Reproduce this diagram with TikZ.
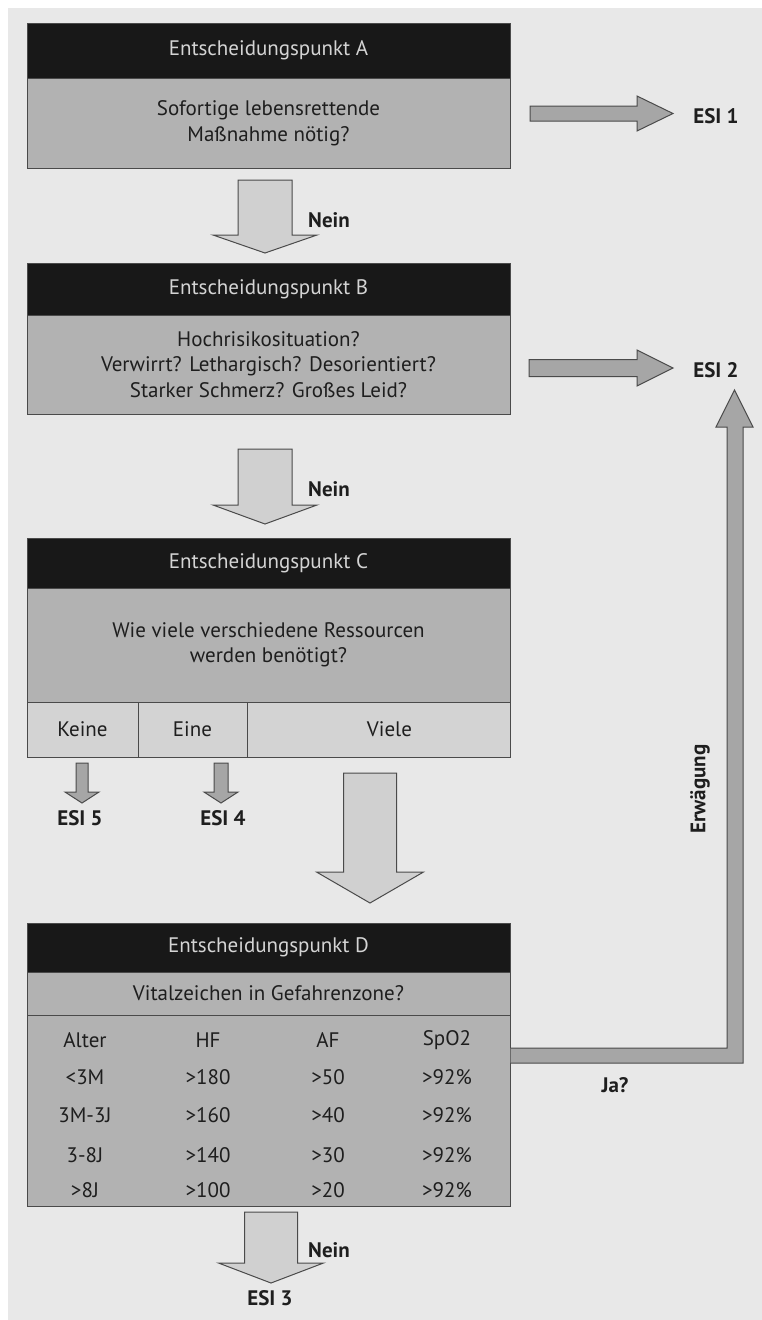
\documentclass[tikz,border=0pt]{standalone}
\usepackage{fontspec}
\setmainfont{PT Sans}

\definecolor{bgcol}{HTML}{E8E8E8}
\definecolor{headcol}{HTML}{181818}
\definecolor{headtext}{HTML}{D4D4D4}
\definecolor{bodycol}{HTML}{B2B2B2}
\definecolor{cellcol}{HTML}{D3D3D3}
\definecolor{linecol}{HTML}{4A4A4A}
\definecolor{textcol}{HTML}{1E1E1E}
\definecolor{arrlight}{HTML}{D0D0D0}
\definecolor{arrdark}{HTML}{A6A6A6}

% block arrows: [style]{x}{top}{base of head}{tip}{half shaft}{half head}
\newcommand{\fatdown}[7][]{%
  \draw[#1] (#2-#6,#3) -- (#2+#6,#3) -- (#2+#6,#4) -- (#2+#7,#4) -- (#2,#5)
    -- (#2-#7,#4) -- (#2-#6,#4) -- cycle;}
% [style]{y}{left}{base of head}{tip}{half shaft}{half head}
\newcommand{\fatright}[7][]{%
  \draw[#1] (#3,#2-#6) -- (#4,#2-#6) -- (#4,#2-#7) -- (#5,#2) -- (#4,#2+#7)
    -- (#4,#2+#6) -- (#3,#2+#6) -- cycle;}

\begin{document}
\begin{tikzpicture}[
  x=1pt, y=-1pt,
  font=\fontsize{21}{25.5}\selectfont,
  head/.style={draw=linecol,line width=1pt,fill=headcol,text=headtext,minimum width=483pt,inner sep=0pt},
  body/.style={draw=linecol,line width=1pt,fill=bodycol,text=textcol,minimum width=483pt,align=center,inner sep=0pt},
  cell/.style={draw=linecol,line width=1pt,fill=cellcol,text=textcol,minimum height=55pt,inner sep=0pt},
  esi/.style={font=\fontsize{21}{25}\selectfont\bfseries,text=textcol},
  tab/.style={text=textcol},
  lightarrow/.style={draw=linecol,line width=1pt,fill=arrlight},
  darkarrow/.style={draw=linecol,line width=1pt,fill=arrdark}]

  \useasboundingbox (0,0) rectangle (762,1320);
  \fill[bgcol] (8,8) rectangle (762,1320);

  % Decision point A
  \node[head, minimum height=55pt] (hA) at (268.5,50.5) {Entscheidungspunkt A};
  \node[body, minimum height=90pt] (bA) at (268.5,123) {Sofortige lebensrettende\\Maßnahme nötig?};

  % Decision point B
  \node[head, minimum height=52pt] (hB) at (268.5,289) {Entscheidungspunkt B};
  \node[body, minimum height=99pt] (bB) at (268.5,364.5)
    {Hochrisikosituation?\\Verwirrt? Lethargisch? Desorientiert?\\Starker Schmerz? Großes Leid?};

  % Decision point C
  \node[head, minimum height=50pt] (hC) at (268.5,563) {Entscheidungspunkt C};
  \node[body, minimum height=114pt] (bC) at (268.5,645)
    {Wie viele verschiedene Ressourcen\\werden benötigt?};
  \node[cell, minimum width=111pt] (keine) at (82.5,729.5) {Keine};
  \node[cell, minimum width=109pt] (eine) at (192.5,729.5) {Eine};
  \node[cell, minimum width=263pt] (viele) at (378.5,729.5) {\hspace*{22pt}Viele};

  % Decision point D
  \node[head, minimum height=49pt] (hD) at (268.5,947.5) {Entscheidungspunkt D};
  \node[body, minimum height=43pt] (sD) at (268.5,993.5) {Vitalzeichen in Gefahrenzone?};
  \node[body, minimum height=191pt] (tD) at (268.5,1110.5) {};
  \foreach \r/\yy/\a/\b/\c/\d in {0/1040/Alter/HF/AF/SpO2, 1/1077/<3M/>180/>50/>92\%,
      2/1115/3M-3J/>160/>40/>92\%, 3/1155/3-8J/>140/>30/>92\%, 4/1190/>8J/>100/>20/>92\%}{
    \node[tab] (alter\r) at (85,\yy) {\a};
    \node[tab] (hf\r) at (208,\yy) {\b};
    \node[tab] (af\r) at (328,\yy) {\c};
    \node[tab] (spo\r) at (447,\yy) {\d};
  }

  % outcomes
  \node[esi] (esi1) at (716,116) {ESI 1};
  \node[esi] (esi2) at (716,370) {ESI 2};
  \node[esi] (esi5) at (80,818) {ESI 5};
  \node[esi] (esi4) at (223,818) {ESI 4};
  \node[esi] (esi3) at (270,1298) {ESI 3};

  % arrows between the boxes
  \fatright[darkarrow]{113.5}{530}{637}{673}{7.5}{17.5}
  \fatright[darkarrow]{368}{529}{637}{673}{8.5}{18}
  \fatdown[lightarrow]{265}{180}{235}{253}{27}{52}
  \node[esi] (neinA) at (329,220) {Nein};
  \fatdown[lightarrow]{265}{449}{505}{524}{27}{52}
  \node[esi] (neinB) at (329,489) {Nein};
  \fatdown[darkarrow]{82}{763}{792}{803}{6}{17}
  \fatdown[darkarrow]{221}{763}{792}{803}{7}{17}
  \fatdown[lightarrow]{370}{773}{872}{903}{26.5}{53.5}
  \fatdown[lightarrow]{271}{1212}{1263}{1283}{26.5}{52.5}
  \node[esi] (neinD) at (329,1250) {Nein};

  % way back up to ESI 2
  \draw[darkarrow] (tD.east |- 0,1048) -- (727,1048) -- (727,427) -- (716,427) -- (734.5,390)
    -- (753,427) -- (743,427) -- (743,1063) -- (tD.east |- 0,1063);
  \node[esi] (ja) at (615,1085) {Ja?};
  \node[esi, rotate=90] (erw) at (700,789) {Erwägung};
\end{tikzpicture}
\end{document}
